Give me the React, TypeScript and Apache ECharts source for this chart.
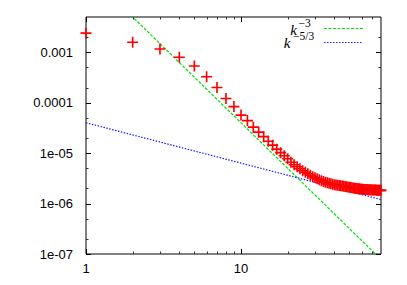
import React, { useEffect, useRef } from 'react';
import * as echarts from 'echarts';

// wavenumbers k = 1..80
const kValues: number[] = [
  1, 2, 3, 4, 5, 6, 7, 8, 9, 10,
  11, 12, 13, 14, 15, 16, 17, 18, 19, 20,
  21, 22, 23, 24, 25, 26, 27, 28, 29, 30,
  31, 32, 33, 34, 35, 36, 37, 38, 39, 40,
  41, 42, 43, 44, 45, 46, 47, 48, 49, 50,
  51, 52, 53, 54, 55, 56, 57, 58, 59, 60,
  61, 62, 63, 64, 65, 66, 67, 68, 69, 70,
  71, 72, 73, 74, 75, 76, 77, 78, 79, 80,
];
// energy spectrum values
const spectrum: number[] = [
  2.39e-3, 1.58e-3, 1.16e-3, 7.95e-4, 5.34e-4, 3.27e-4, 2.0e-4, 1.21e-4, 8.37e-5, 5.67e-5,
  4.41e-5, 3.27e-5, 2.6e-5, 2.12e-5, 1.72e-5, 1.44e-5, 1.2e-5, 1.02e-5, 8.88e-6, 7.74e-6,
  6.59e-6, 5.88e-6, 5.36e-6, 4.9e-6, 4.47e-6, 4.17e-6, 3.9e-6, 3.64e-6, 3.4e-6, 3.24e-6,
  3.1e-6, 2.96e-6, 2.83e-6, 2.74e-6, 2.66e-6, 2.58e-6, 2.52e-6, 2.46e-6, 2.41e-6, 2.37e-6,
  2.34e-6, 2.31e-6, 2.28e-6, 2.25e-6, 2.22e-6, 2.2e-6, 2.17e-6, 2.15e-6, 2.12e-6, 2.1e-6,
  2.08e-6, 2.06e-6, 2.04e-6, 2.02e-6, 2.0e-6, 1.99e-6, 1.97e-6, 1.96e-6, 1.94e-6, 1.93e-6,
  1.92e-6, 1.91e-6, 1.9e-6, 1.9e-6, 1.89e-6, 1.88e-6, 1.88e-6, 1.87e-6, 1.87e-6, 1.86e-6,
  1.86e-6, 1.85e-6, 1.85e-6, 1.85e-6, 1.84e-6, 1.84e-6, 1.84e-6, 1.83e-6, 1.83e-6, 1.83e-6,
];
// reference power laws (end points across the x range)
const lineK: number[] = [1, 80];
const kMinus3: number[] = [0.04, 7.8e-8];
const kMinus53: number[] = [4.0e-5, 1.2e-6];

const X_MIN = 1;
const X_MAX = 80;
const Y_MIN = 1e-7;
const Y_MAX = 5e-3;

const xMajorTicks: number[] = [1, 10];
const xMinorTicks: number[] = [2, 3, 4, 5, 6, 7, 8, 9, 20, 30, 40, 50, 60, 70];
const yMajorTicks: number[] = [1e-7, 1e-6, 1e-5, 1e-4, 1e-3];
const yMinorTicks: number[] = [2e-7, 5e-7, 2e-6, 5e-6, 2e-5, 5e-5, 2e-4, 5e-4, 2e-3];

const PLUS = 'path://M0,4.25H10V5.75H0ZM4.25,0H5.75V10H4.25Z';
const GREEN = '#00e000';
const BLUE = '#1a1aff';

function tickSeries(axis: 'x' | 'y', values: number[], len: number, color: string) {
  return {
    type: 'custom',
    silent: true,
    z: 6,
    clip: false,
    data: values.map((v) => (axis === 'x' ? [v, Y_MIN] : [X_MIN, v])),
    renderItem: (params: any, api: any) => {
      const cs = params.coordSys;
      const p = api.coord([api.value(0), api.value(1)]);
      const style = { stroke: color, lineWidth: 1 };
      if (axis === 'x') {
        const x = Math.round(p[0]) + 0.5;
        const yb = cs.y + cs.height;
        return {
          type: 'group',
          children: [
            { type: 'line', shape: { x1: x, y1: yb, x2: x, y2: yb - len }, style },
            { type: 'line', shape: { x1: x, y1: cs.y, x2: x, y2: cs.y + len }, style },
          ],
        };
      }
      const y = Math.round(p[1]) + 0.5;
      const xr = cs.x + cs.width;
      return {
        type: 'group',
        children: [
          { type: 'line', shape: { x1: cs.x, y1: y, x2: cs.x + len, y2: y }, style },
          { type: 'line', shape: { x1: xr, y1: y, x2: xr - len, y2: y }, style },
        ],
      };
    },
  };
}

function yLabel(v: number): string {
  const e = Math.round(Math.log10(v));
  if (e >= -4) return (Math.pow(10, e)).toFixed(-e);
  const a = -e;
  return '1e-' + (a < 10 ? '0' + a : String(a));
}

function xLabel(v: number): string {
  const e = Math.round(Math.log10(v));
  return String(Math.round(Math.pow(10, e)));
}

const SERIF = '"Liberation Serif", "DejaVu Serif", serif';

export default function App() {
  const ref = useRef<HTMLDivElement>(null);

  useEffect(() => {
    if (!ref.current) return;
    const chart = echarts.init(ref.current, undefined, { renderer: 'svg' });
    const labelFont = {
      fontFamily: 'Liberation Sans, Arial, sans-serif',
      fontSize: 13,
      color: '#000',
    };
    chart.setOption({
      animation: false,
      backgroundColor: '#fff',
      grid: {
        left: 86,
        top: 17,
        width: 295,
        height: 237,
        show: true,
        borderColor: '#000',
        borderWidth: 1,
        backgroundColor: 'transparent',
      },
      xAxis: {
        type: 'log',
        logBase: 10,
        min: X_MIN,
        max: X_MAX,
        axisLine: { show: false },
        axisTick: { show: false },
        splitLine: { show: false },
        minorTick: { show: false },
        axisLabel: {
          ...labelFont,
          margin: 8,
          showMaxLabel: false,
          formatter: (v: number) => xLabel(v),
        },
      },
      yAxis: {
        type: 'log',
        logBase: 10,
        min: Y_MIN,
        max: Y_MAX,
        axisLine: { show: false },
        axisTick: { show: false },
        splitLine: { show: false },
        minorTick: { show: false },
        axisLabel: {
          ...labelFont,
          margin: 13,
          showMaxLabel: false,
          formatter: (v: number) => yLabel(v),
        },
      },
      graphic: [
        {
          type: 'text',
          x: 297,
          y: 29.5,
          style: {
            text: 'k',
            font: 'italic 15px ' + SERIF,
            fill: '#000',
            align: 'right',
            verticalAlign: 'middle',
          },
        },
        {
          type: 'text',
          x: 298.5,
          y: 22.5,
          style: {
            text: '\u22123',
            font: '11.5px ' + SERIF,
            fill: '#000',
            align: 'left',
            verticalAlign: 'middle',
          },
        },
        {
          type: 'text',
          x: 290.5,
          y: 43,
          style: {
            text: 'k',
            font: 'italic 15px ' + SERIF,
            fill: '#000',
            align: 'right',
            verticalAlign: 'middle',
          },
        },
        {
          type: 'text',
          x: 293,
          y: 35.5,
          style: {
            text: '\u22125/3',
            font: '11.5px ' + SERIF,
            fill: '#000',
            align: 'left',
            verticalAlign: 'middle',
          },
        },
        {
          type: 'line',
          shape: { x1: 324, y1: 28.5, x2: 363, y2: 28.5 },
          style: { stroke: GREEN, lineWidth: 1.2, lineDash: [3, 1.5] },
        },
        {
          type: 'line',
          shape: { x1: 324, y1: 42.5, x2: 363, y2: 42.5 },
          style: { stroke: BLUE, lineWidth: 1.2, lineDash: [1.5, 1.5] },
        },
      ],
      series: [
        {
          name: 'k^-3',
          type: 'line',
          data: lineK.map((k, i) => [k, kMinus3[i]]),
          symbol: 'none',
          clip: true,
          z: 3,
          lineStyle: { color: GREEN, width: 1.2, type: [3, 1.5] },
        },
        {
          name: 'k^-5/3',
          type: 'line',
          data: lineK.map((k, i) => [k, kMinus53[i]]),
          symbol: 'none',
          clip: true,
          z: 3,
          lineStyle: { color: BLUE, width: 1.2, type: [1.5, 1.5] },
        },
        {
          name: 'spectrum',
          type: 'scatter',
          data: kValues.map((k, i) => [k, spectrum[i]]),
          symbol: PLUS,
          symbolSize: 11,
          clip: false,
          z: 4,
          itemStyle: { color: '#ff0000', opacity: 1 },
        },
        tickSeries('x', xMajorTicks, 5, '#000'),
        tickSeries('x', xMinorTicks, 2.5, '#333'),
        tickSeries('y', yMajorTicks, 5, '#000'),
        tickSeries('y', yMinorTicks, 2.5, '#333'),
      ],
    });
    return () => {
      chart.dispose();
    };
  }, []);

  return (
    <div
      ref={ref}
      style={{ position: 'absolute', left: 0, top: 0, width: 407, height: 285 }}
    />
  );
}
